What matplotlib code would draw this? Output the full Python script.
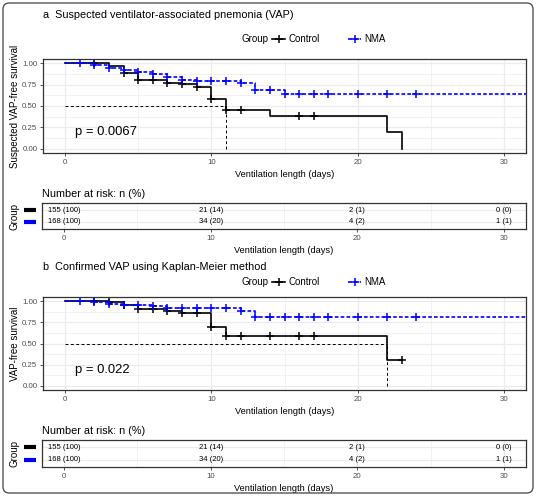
import numpy as np
import matplotlib
matplotlib.use("Agg")
from matplotlib import pyplot as plt
from matplotlib.lines import Line2D
from matplotlib.patches import FancyBboxPatch
from matplotlib.transforms import blended_transform_factory

plt.rcParams['font.family'] = ['Liberation Sans', 'DejaVu Sans']

# ---- data ----
# panel a: suspected VAP
ctrl_a_t = [0, 3, 4, 5, 7, 8, 9, 10, 11, 14, 22, 23]
ctrl_a_s = [1.0, 0.965, 0.885, 0.81, 0.775, 0.755, 0.72, 0.585, 0.455, 0.38, 0.19, 0.0]
ctrl_a_end = 23
ctrl_a_cens = [2, 4, 5, 6, 7, 8, 9, 10, 11, 12, 16, 17]
nma_a_t = [0, 2, 3, 4, 5, 6, 7, 8, 9, 12, 13, 15]
nma_a_s = [1.0, 0.976, 0.95, 0.92, 0.895, 0.875, 0.84, 0.81, 0.79, 0.765, 0.69, 0.645]
nma_a_end = 32
nma_a_cens = [1, 2, 3, 4, 5, 6, 7, 8, 9, 10, 11, 12, 13, 14, 15, 16, 17, 18, 20, 22, 24]
median_a = 11
pval_a = "p = 0.0067"

# panel b: confirmed VAP
ctrl_b_t = [0, 3, 4, 5, 7, 8, 10, 11, 22]
ctrl_b_s = [1.0, 0.99, 0.955, 0.905, 0.89, 0.86, 0.69, 0.59, 0.305]
ctrl_b_end = 23
ctrl_b_cens = [2, 3, 4, 5, 6, 7, 8, 9, 10, 11, 12, 14, 16, 17, 23]
nma_b_t = [0, 2, 3, 4, 6, 7, 12, 13]
nma_b_s = [1.0, 0.99, 0.97, 0.95, 0.94, 0.925, 0.89, 0.81]
nma_b_end = 32
nma_b_cens = [1, 2, 3, 4, 5, 6, 7, 8, 9, 10, 11, 12, 13, 14, 15, 16, 17, 18, 20, 22, 24]
median_b = 22
pval_b = "p = 0.022"

# number at risk (same in both panels)
risk_times = [0, 10, 20, 30]
risk_ctrl = ["155 (100)", "21 (14)", "2 (1)", "0 (0)"]
risk_nma = ["168 (100)", "34 (20)", "4 (2)", "1 (1)"]

groups = ["Control", "NMA"]
colors = ["black", "#0000FF"]

W, H = 536, 496
GRID = "#EBEBEB"
TXT = "#4D4D4D"


def rect(left, top, right, bottom):
    return [left / W, 1 - bottom / H, (right - left) / W, (bottom - top) / H]


def km_step(ax, t, s, end, cens, color, dashed):
    xs = list(t) + [end]
    ys = list(s) + [s[-1]]
    line, = ax.step(xs, ys, where='post', color=color, lw=1.2, clip_on=True)
    if dashed:
        line.set_dashes((2.2, 1.3))
    idx = np.searchsorted(t, cens, side='right') - 1
    ax.plot(cens, np.array(s)[idx], ls='none', marker='+', ms=5.5, mew=1.1,
            color=color)


def style_box(ax):
    ax.set_facecolor('white')
    for sp in ax.spines.values():
        sp.set_color('#333333')
        sp.set_linewidth(0.9)
    ax.tick_params(colors='#333333', labelcolor=TXT, labelsize=5.7,
                   length=2.5, width=0.6, pad=1.6)
    ax.set_axisbelow(True)


def panel(fig, title, plot_box, table_box, title_y, legend_y, series, median,
          pval, ylab):
    ax = fig.add_axes(rect(*plot_box))
    style_box(ax)
    ax.set_xlim(-1.5, 31.5)
    ax.set_ylim(-0.05, 1.05)
    ax.set_xticks([0, 10, 20, 30])
    ax.set_xticks([5, 15, 25], minor=True)
    ax.set_yticks([0, 0.25, 0.5, 0.75, 1.0])
    ax.set_yticks([0.125, 0.375, 0.625, 0.875], minor=True)
    ax.set_yticklabels(["0.00", "0.25", "0.50", "0.75", "1.00"])
    ax.tick_params(which='minor', length=0)
    ax.grid(True, which='major', color=GRID, lw=0.9)
    ax.grid(True, which='minor', color=GRID, lw=0.5)

    # median lines
    ax.plot([0, median], [0.5, 0.5], color='black', lw=0.7, ls=(0, (3, 2.5)))
    ax.plot([median, median], [0, 0.5], color='black', lw=0.7, ls=(0, (3, 2.5)))

    for (t, s, end, cens), c, dashed in zip(series, colors, [False, True]):
        km_step(ax, t, s, end, cens, c, dashed)

    ax.text(0.7, 0.19, pval, fontsize=9.4, va='center', ha='left')
    ax.set_xlabel("Ventilation length (days)", fontsize=6.7, labelpad=3)
    ax.set_ylabel(ylab, fontsize=7)
    ax.yaxis.set_label_coords((20 - 43) / 483, 0.5)

    fig.text(43 / W, 1 - title_y / H, title, fontsize=7.8, va='center', ha='left')

    # legend
    fig.text(242 / W, 1 - legend_y / H, "Group", fontsize=7, va='center')
    handles = []
    for g, c, dashed in zip(groups, colors, [False, True]):
        h = Line2D([], [], color=c, lw=1.2, marker='+', ms=5.5, mew=1.1,
                   ls=(0, (2.2, 1.3)) if dashed else '-')
        handles.append(h)
    fig.legend(handles, groups, loc='center left',
               bbox_to_anchor=(267 / W, 1 - legend_y / H), ncol=2,
               frameon=False, fontsize=7, handlelength=1.4,
               handletextpad=0.3, columnspacing=2.9, borderpad=0)

    # risk table
    tb = fig.add_axes(rect(*table_box))
    style_box(tb)
    tb.set_xlim(-1.5, 31.5)
    tb.set_ylim(0.4, 2.6)
    tb.set_xticks([0, 10, 20, 30])
    tb.set_xticks([5, 15, 25], minor=True)
    tb.tick_params(which='minor', length=0)
    tb.grid(True, which='major', color=GRID, lw=0.9)
    tb.grid(True, which='minor', axis='x', color=GRID, lw=0.5)
    tb.set_yticks([2, 1])
    tb.set_yticklabels([])
    tb.tick_params(axis='y', length=0)
    # coloured group keys left of the table
    key_tr = blended_transform_factory(tb.transAxes, tb.transData)
    for row, c in zip([2, 1], colors):
        tb.plot([-0.025], [row], marker='_', ms=8.5, mew=3, color=c,
                transform=key_tr, clip_on=False)
    for row, vals in zip([2, 1], [risk_ctrl, risk_nma]):
        for x, v in zip(risk_times, vals):
            tb.text(x, row, v, fontsize=5.5, ha='center', va='center')
    tb.set_xlabel("Ventilation length (days)", fontsize=6.7, labelpad=3)
    tb.set_ylabel("Group", fontsize=7)
    tb.yaxis.set_label_coords((20 - 42) / 484, 0.5)
    tb.set_title("Number at risk: n (%)", fontsize=7.8, loc='left', pad=4)
    return ax


fig = plt.figure(figsize=(W / 100, H / 100), dpi=100)

series_a = [(ctrl_a_t, ctrl_a_s, ctrl_a_end, ctrl_a_cens),
            (nma_a_t, nma_a_s, nma_a_end, nma_a_cens)]
series_b = [(ctrl_b_t, ctrl_b_s, ctrl_b_end, ctrl_b_cens),
            (nma_b_t, nma_b_s, nma_b_end, nma_b_cens)]

panel(fig, "a  Suspected ventilator-associated pnemonia (VAP)",
      (43, 59, 526, 153), (42, 203, 526, 229), 15, 39, series_a, median_a,
      pval_a, "Suspected VAP-free survival")
panel(fig, "b  Confirmed VAP using Kaplan-Meier method",
      (43, 297, 526, 390), (42, 440, 526, 467), 267, 282, series_b, median_b,
      pval_b, "VAP-free survival")

border = FancyBboxPatch((3 / W, 3 / H), 530 / W, 490 / H,
                        boxstyle="round,pad=0,rounding_size=0.012",
                        transform=fig.transFigure, fill=False,
                        edgecolor='#555555', lw=1.0)
fig.patches.append(border)

fig.savefig("out.png", dpi=100)
